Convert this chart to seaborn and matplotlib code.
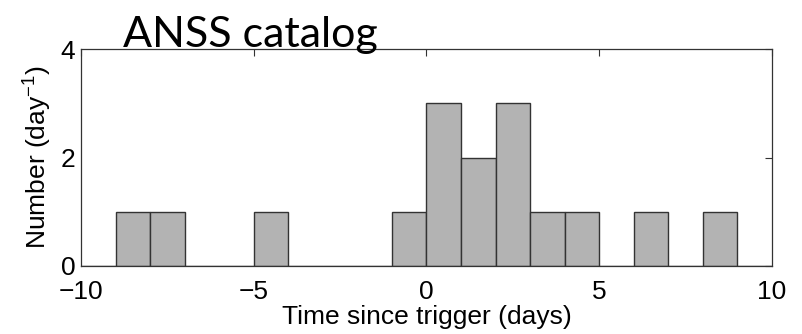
import numpy as np
import pandas as pd
import matplotlib
matplotlib.use("Agg")
import matplotlib.pyplot as plt
import seaborn as sns

# Data (1-day bins)
bin_left = [-9, -8, -5, -1, 0, 1, 2, 3, 4, 6, 8]
counts = [1, 1, 1, 1, 3, 2, 3, 1, 1, 1, 1]
x_ticks = [-10, -5, 0, 5, 10]
y_ticks = [0, 2, 4]

df = pd.DataFrame({"t": np.array(bin_left) + 0.5, "n": counts})

sns.set_style("white")
plt.rcParams["font.family"] = ["Liberation Sans", "DejaVu Sans"]
plt.rcParams["mathtext.fontset"] = "custom"
plt.rcParams["mathtext.rm"] = "Liberation Sans"
plt.rcParams["mathtext.it"] = "Liberation Sans"
plt.rcParams["text.color"] = "black"
plt.rcParams["axes.labelcolor"] = "black"

fig = plt.figure(figsize=(8.03, 3.34), dpi=100)
ax = fig.add_axes([81 / 803, 1 - 265.7 / 334, (772 - 81) / 803, (265.7 - 49.3) / 334])

sns.histplot(data=df, x="t", weights="n", binwidth=1, binrange=(-10, 10), ax=ax,
             color="#b3b3b3", alpha=1, edgecolor="#333333", linewidth=1.0)

ax.set_xlim(-10, 10)
ax.set_ylim(0, 4)
ax.set_xticks(x_ticks)
ax.set_yticks(y_ticks)
ax.set_xticklabels(["\u221210", "\u22125", "0", "5", "10"])
ax.tick_params(direction="in", length=5, width=0.8, labelsize=19, top=True, right=True,
               colors="#333333", labelcolor="black")
ax.tick_params(axis="x", pad=10)
ax.tick_params(axis="y", pad=4)
for s in ax.spines.values():
    s.set_color("#333333")
    s.set_linewidth(0.9)

ax.set_xlabel("Time since trigger (days)", fontsize=19, labelpad=1)
ax.set_ylabel("Number (day$^{-1}$)", fontsize=19, labelpad=5)

fig.text(250 / 803, 1 - 47 / 334, "ANSS catalog", fontsize=31, family=["Lato", "DejaVu Sans"],
         ha="center", va="baseline", color="black")

fig.savefig("out.png", dpi=100)
